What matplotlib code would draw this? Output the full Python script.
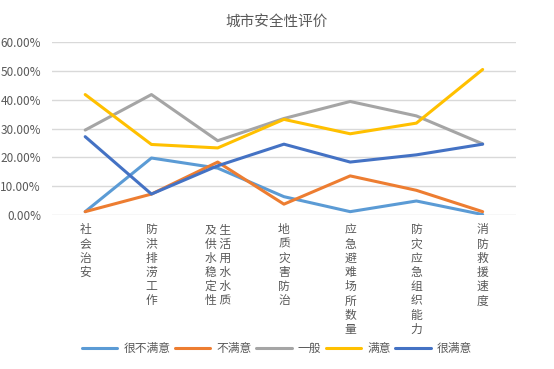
import matplotlib.pyplot as plt
from matplotlib.ticker import PercentFormatter

plt.rcParams['font.family'] = ['Noto Sans CJK SC', 'DejaVu Sans']

# categories (vertical labels, one char per line)
categories = ['社会治安', '防洪排涝工作', '生活用水水质及供水稳定性', '地质灾害防治',
              '应急避难场所数量', '防灾应急组织能力', '消防救援速度']
series_names = ['很不满意', '不满意', '一般', '满意', '很满意']

very_unsatisfied = [1.2, 19.8, 16.3, 6.4, 1.2, 4.9, 0.2]
unsatisfied = [1.2, 7.3, 18.4, 3.8, 13.6, 8.6, 1.2]
neutral = [29.5, 41.8, 25.8, 33.5, 39.4, 34.4, 24.7]
satisfied = [41.8, 24.5, 23.3, 33.2, 28.2, 31.9, 50.5]
very_satisfied = [27.2, 7.3, 17.1, 24.6, 18.4, 20.9, 24.6]

colors = ['#5B9BD5', '#ED7D31', '#A5A5A5', '#FFC000', '#4472C4']
text_gray = '#595959'


def vertical_label(s):
    # long label wraps into two columns (right column read first)
    if len(s) > 8:
        right, left = s[:6], s[6:]
        return '\n'.join(l + ' ' + r for l, r in zip(left, right))
    return '\n'.join(s)


fig = plt.figure(figsize=(5.54, 3.69), dpi=100)
ax = fig.add_axes([0.094, 0.417, 0.837, 0.469])

x = list(range(len(categories)))
all_series = [very_unsatisfied, unsatisfied, neutral, satisfied, very_satisfied]
for name, vals, c in zip(series_names, all_series, colors):
    ax.plot(x, [v / 100 for v in vals], color=c, lw=2.2, label=name,
            solid_capstyle='round', solid_joinstyle='round')

ax.set_xlim(-0.5, len(categories) - 0.5)
ax.set_ylim(0, 0.6)
ax.set_yticks([i / 10 for i in range(7)])
ax.yaxis.set_major_formatter(PercentFormatter(1.0, decimals=2))
ax.grid(axis='y', color='#D9D9D9', lw=1)
ax.set_axisbelow(True)
for s in ax.spines.values():
    s.set_visible(False)
ax.tick_params(axis='both', length=0, colors=text_gray, labelsize=8.5)
ax.tick_params(axis='y', pad=8)

ax.set_xticks(x)
ax.set_xticklabels([vertical_label(c) for c in categories], va='top',
                   linespacing=1.12, fontsize=8.5, color=text_gray)
ax.tick_params(axis='x', pad=6)

fig.text(0.5, 0.94, '城市安全性评价', ha='center', va='center',
         fontsize=10.5, color=text_gray)

fig.legend(loc='center', bbox_to_anchor=(0.5, 0.055), ncol=5, frameon=False,
           fontsize=8.5, handlelength=3.0, handletextpad=0.5, columnspacing=0.4,
           labelcolor=text_gray)

fig.savefig('out.png', dpi=100)
